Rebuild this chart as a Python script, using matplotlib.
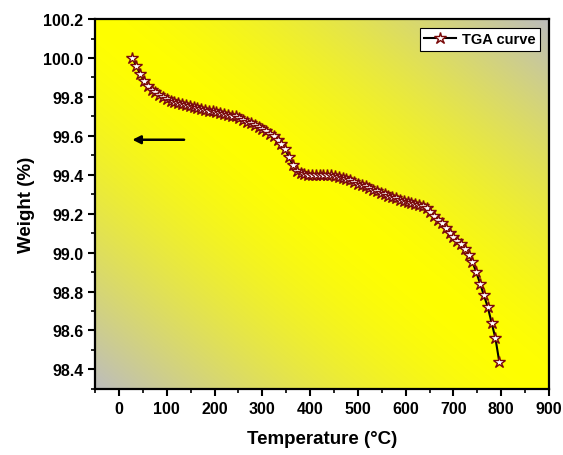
import numpy as np
import matplotlib
matplotlib.use("Agg")
import matplotlib.pyplot as plt
from matplotlib.ticker import MultipleLocator

# %%
# TGA data
temperature = [28, 36, 44, 52, 60, 68, 76, 84, 92, 100,
               108, 116, 124, 132, 140, 148, 156, 164, 172, 180,
               188, 196, 204, 212, 220, 228, 236, 244, 252, 260,
               268, 276, 284, 292, 300, 308, 316, 324, 332, 340,
               348, 356, 364, 372, 380, 388, 396, 404, 412, 420,
               428, 436, 444, 452, 460, 468, 476, 484, 492, 500,
               508, 516, 524, 532, 540, 548, 556, 564, 572, 580,
               588, 596, 604, 612, 620, 628, 636, 644, 652, 660,
               668, 676, 684, 692, 700, 708, 716, 724, 732, 740,
               748, 756, 764, 772, 780, 788, 796]
weight = [100.00, 99.96, 99.92, 99.88, 99.855, 99.835, 99.825, 99.81, 99.80, 99.79,
          99.78, 99.775, 99.77, 99.765, 99.76, 99.755, 99.75, 99.745, 99.74, 99.735,
          99.73, 99.727, 99.72, 99.717, 99.71, 99.707, 99.70, 99.70, 99.69, 99.68,
          99.67, 99.665, 99.655, 99.645, 99.635, 99.625, 99.612, 99.60, 99.58, 99.56,
          99.53, 99.49, 99.45, 99.42, 99.41, 99.405, 99.40, 99.40, 99.40, 99.40,
          99.40, 99.40, 99.40, 99.395, 99.39, 99.385, 99.38, 99.375, 99.365, 99.355,
          99.345, 99.34, 99.33, 99.32, 99.315, 99.305, 99.30, 99.29, 99.285, 99.28,
          99.27, 99.265, 99.26, 99.255, 99.25, 99.245, 99.24, 99.23, 99.21, 99.19,
          99.17, 99.15, 99.125, 99.10, 99.08, 99.06, 99.045, 99.02, 98.99, 98.95,
          98.90, 98.84, 98.78, 98.72, 98.64, 98.56, 98.44]

x_ticks = [0, 100, 200, 300, 400, 500, 600, 700, 800, 900]
y_ticks = [98.4, 98.6, 98.8, 99.0, 99.2, 99.4, 99.6, 99.8, 100.0, 100.2]

# %%
plt.rcParams['font.family'] = ['Liberation Sans', 'DejaVu Sans']
plt.rcParams['font.weight'] = 'bold'

fig = plt.figure(figsize=(5.63, 4.56), dpi=100)
ax = fig.add_axes([0.169, 0.145, 0.806, 0.811])

# Background gradient: grey corners (bottom-left / top-right), yellow diagonal
n = 200
gx, gy = np.meshgrid(np.linspace(0, 1, n), np.linspace(0, 1, n))
c = np.abs(gx + gy - 1.0) ** 1.5
yellow = np.array([1.0, 1.0, 0.0])
grey = np.array([0.74, 0.74, 0.74])
img = yellow[None, None, :] * (1 - c[..., None]) + grey[None, None, :] * c[..., None]
ax.imshow(img, extent=[0, 1, 0, 1], transform=ax.transAxes, origin='lower',
          aspect='auto', zorder=0, interpolation='bilinear')

ax.plot(temperature, weight, color='black', lw=1.5, marker='*', markersize=9,
        markerfacecolor='white', markeredgecolor='#7a0a0a', markeredgewidth=1.0,
        label='TGA curve', zorder=3)

ax.annotate('', xy=(22, 99.58), xytext=(142, 99.58),
            arrowprops=dict(arrowstyle='-|>', color='black', lw=1.8,
                            mutation_scale=12))

ax.set_xlim(-50, 900)
ax.set_ylim(98.3, 100.2)
ax.set_xticks(x_ticks)
ax.set_yticks(y_ticks)
ax.set_yticklabels([f"{v:.1f}" for v in y_ticks])
ax.xaxis.set_minor_locator(MultipleLocator(50))
ax.yaxis.set_minor_locator(MultipleLocator(0.1))
ax.tick_params(which='major', direction='out', length=5, width=1.5, labelsize=11.5)
ax.tick_params(which='minor', direction='out', length=3, width=1.2)
for s in ax.spines.values():
    s.set_linewidth(1.6)

ax.set_xlabel('Temperature (°C)', fontsize=13.5, fontweight='bold', labelpad=10)
ax.set_ylabel('Weight (%)', fontsize=13.5, fontweight='bold', labelpad=6)

leg = ax.legend(loc='upper right', fontsize=10.5, frameon=True, fancybox=False,
                handlelength=2.2, handletextpad=0.4, borderpad=0.3, borderaxespad=0.6)
leg.get_frame().set_edgecolor('black')
leg.get_frame().set_linewidth(0.8)
leg.get_frame().set_alpha(1)
for t in leg.get_texts():
    t.set_fontweight('bold')

plt.savefig('out.png', dpi=100)
